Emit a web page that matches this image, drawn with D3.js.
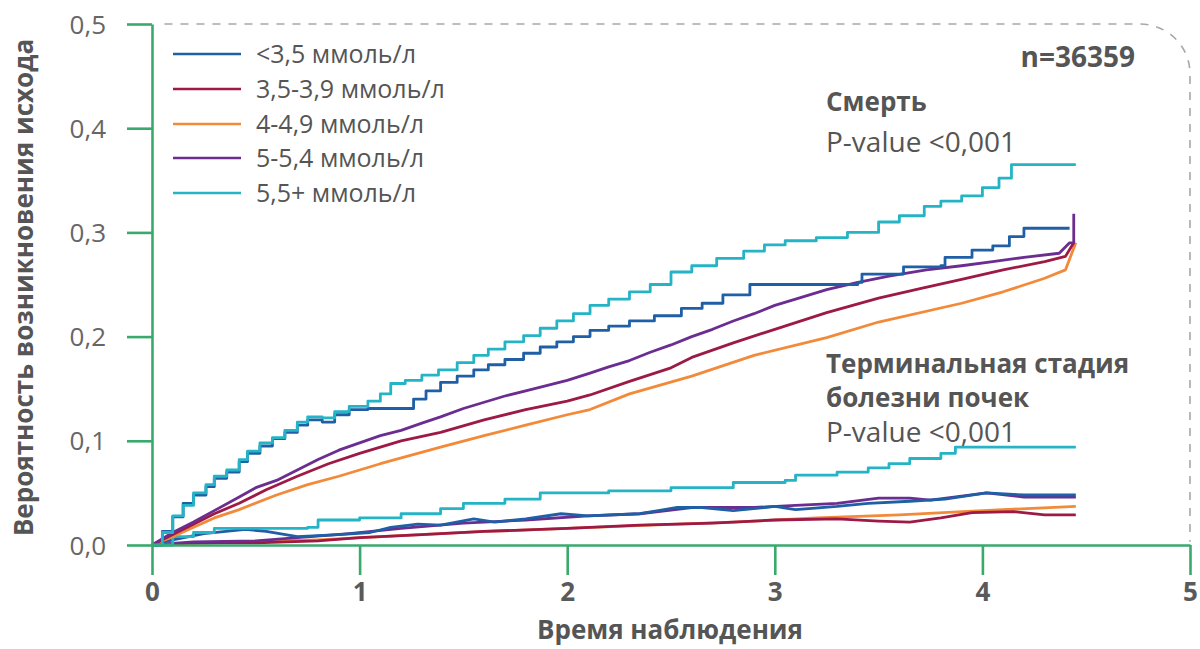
<!DOCTYPE html>
<html><head><meta charset="utf-8">
<script src="https://cdn.jsdelivr.net/npm/d3@7/dist/d3.min.js"></script>
<style>
html,body{margin:0;padding:0;background:#fff;}
svg{display:block;font-family:"Open Sans","Noto Sans",sans-serif;}
</style></head>
<body>
<svg id="chart" width="1200" height="649"></svg>
<script>
// ---- Data ----
const seriesLabels = ["<3,5 ммоль/л","3,5-3,9 ммоль/л","4-4,9 ммоль/л","5-5,4 ммоль/л","5,5+ ммоль/л"];
const seriesColors = ["#1f5fa6","#9c1a45","#f28a3a","#6b2d8f","#24b4c6"];
const xTicks = [0,1,2,3,4,5];
const yTicks = [0,0.1,0.2,0.3,0.4,0.5];

// Death (Смерть) – cumulative incidence [time, probability]
const death_lt35 = [[0,0],[0.05,0.013],[0.1,0.027],[0.15,0.04],[0.2,0.048],[0.26,0.056],[0.3,0.064],[0.36,0.07],[0.42,0.08],[0.46,0.088],[0.52,0.095],[0.58,0.102],[0.64,0.108],[0.7,0.115],[0.75,0.12],[0.82,0.118],[0.88,0.125],[0.95,0.13],[1.04,0.131],[1.2,0.131],[1.26,0.14],[1.32,0.148],[1.39,0.156],[1.47,0.162],[1.55,0.168],[1.62,0.173],[1.7,0.178],[1.79,0.184],[1.87,0.19],[1.95,0.195],[2.03,0.2],[2.11,0.206],[2.2,0.21],[2.3,0.215],[2.42,0.22],[2.55,0.227],[2.65,0.232],[2.75,0.24],[2.88,0.25],[3.4,0.252],[3.42,0.26],[3.62,0.267],[3.8,0.268],[3.82,0.276],[3.95,0.283],[4.05,0.287],[4.13,0.296],[4.2,0.304],[4.42,0.304]];
const death_35_39 = [[0,0],[0.1,0.01],[0.2,0.02],[0.3,0.03],[0.42,0.04],[0.55,0.053],[0.7,0.066],[0.85,0.078],[1.0,0.088],[1.2,0.1],[1.39,0.108],[1.6,0.12],[1.8,0.13],[2.0,0.138],[2.11,0.144],[2.3,0.157],[2.5,0.17],[2.6,0.18],[2.8,0.194],[3.0,0.207],[3.25,0.223],[3.5,0.237],[3.7,0.246],[3.9,0.255],[4.1,0.264],[4.3,0.272],[4.4,0.277],[4.44,0.29]];
const death_4_49 = [[0,0],[0.1,0.008],[0.2,0.017],[0.3,0.026],[0.42,0.034],[0.6,0.048],[0.75,0.058],[0.9,0.066],[1.1,0.078],[1.39,0.094],[1.6,0.105],[1.8,0.115],[2.0,0.125],[2.11,0.13],[2.3,0.145],[2.6,0.162],[2.9,0.182],[3.25,0.199],[3.5,0.214],[3.9,0.232],[4.1,0.243],[4.3,0.256],[4.4,0.264],[4.45,0.29]];
const death_5_54 = [[0,0],[0.1,0.012],[0.2,0.022],[0.3,0.033],[0.42,0.046],[0.5,0.055],[0.6,0.062],[0.7,0.072],[0.8,0.082],[0.9,0.091],[1.0,0.098],[1.1,0.105],[1.2,0.11],[1.3,0.117],[1.39,0.123],[1.5,0.131],[1.6,0.137],[1.7,0.143],[1.8,0.148],[1.9,0.153],[2.0,0.158],[2.11,0.165],[2.2,0.171],[2.3,0.177],[2.4,0.185],[2.5,0.192],[2.6,0.2],[2.7,0.207],[2.8,0.215],[2.9,0.222],[3.0,0.23],[3.1,0.236],[3.25,0.245],[3.4,0.252],[3.55,0.258],[3.73,0.264],[3.9,0.268],[4.05,0.272],[4.2,0.276],[4.37,0.28],[4.42,0.29],[4.44,0.29],[4.44,0.318]];
const death_55p = [[0,0],[0.05,0.012],[0.1,0.028],[0.15,0.038],[0.2,0.05],[0.26,0.058],[0.3,0.066],[0.36,0.072],[0.42,0.082],[0.46,0.09],[0.52,0.098],[0.58,0.103],[0.64,0.11],[0.7,0.118],[0.75,0.123],[0.82,0.122],[0.88,0.128],[0.95,0.133],[1.04,0.138],[1.1,0.145],[1.15,0.155],[1.22,0.158],[1.3,0.163],[1.38,0.168],[1.47,0.175],[1.55,0.182],[1.62,0.188],[1.7,0.195],[1.79,0.201],[1.87,0.208],[1.95,0.215],[2.03,0.222],[2.11,0.23],[2.2,0.236],[2.3,0.243],[2.4,0.25],[2.5,0.262],[2.6,0.268],[2.72,0.275],[2.85,0.282],[2.95,0.288],[3.05,0.292],[3.2,0.295],[3.35,0.3],[3.5,0.31],[3.6,0.316],[3.72,0.325],[3.8,0.33],[3.9,0.335],[4.0,0.343],[4.08,0.352],[4.14,0.365],[4.45,0.365]];

// End-stage kidney disease (Терминальная стадия болезни почек)
const esrd_lt35 = [[0,0],[0.1,0.005],[0.25,0.011],[0.45,0.015],[0.55,0.013],[0.7,0.008],[0.9,0.01],[1.05,0.012],[1.15,0.017],[1.28,0.02],[1.39,0.019],[1.55,0.025],[1.65,0.022],[1.8,0.025],[1.97,0.03],[2.1,0.028],[2.35,0.03],[2.53,0.036],[2.65,0.036],[2.8,0.033],[3.0,0.037],[3.1,0.034],[3.3,0.037],[3.45,0.04],[3.65,0.042],[3.82,0.044],[4.02,0.05],[4.2,0.048],[4.45,0.048]];
const esrd_35_39 = [[0,0],[0.2,0.002],[0.5,0.002],[0.8,0.004],[1.0,0.007],[1.3,0.01],[1.6,0.013],[2.0,0.016],[2.35,0.019],[2.7,0.021],[3.0,0.024],[3.3,0.025],[3.5,0.023],[3.65,0.022],[3.8,0.026],[3.95,0.031],[4.15,0.032],[4.3,0.029],[4.45,0.029]];
const esrd_4_49 = [[0,0],[0.3,0.002],[0.8,0.005],[1.2,0.009],[1.6,0.013],[2.0,0.016],[2.4,0.019],[2.8,0.022],[3.2,0.026],[3.6,0.029],[4.0,0.033],[4.45,0.037]];
const esrd_5_54 = [[0,0],[0.2,0.003],[0.5,0.004],[0.7,0.007],[0.95,0.011],[1.2,0.016],[1.5,0.021],[1.8,0.024],[2.1,0.028],[2.35,0.03],[2.6,0.036],[2.9,0.036],[3.1,0.038],[3.3,0.04],[3.5,0.045],[3.65,0.045],[3.75,0.043],[3.9,0.047],[4.02,0.05],[4.2,0.046],[4.45,0.046]];
const esrd_55p = [[0,0],[0.1,0.008],[0.2,0.012],[0.3,0.016],[0.75,0.017],[0.8,0.024],[1.0,0.026],[1.2,0.03],[1.39,0.035],[1.5,0.04],[1.7,0.044],[1.87,0.05],[2.2,0.052],[2.5,0.055],[2.8,0.06],[3.05,0.062],[3.1,0.067],[3.3,0.07],[3.45,0.074],[3.55,0.078],[3.65,0.083],[3.8,0.088],[3.87,0.094],[4.45,0.094]];

const deathSeries = [death_lt35, death_35_39, death_4_49, death_5_54, death_55p];
const esrdSeries = [esrd_lt35, esrd_35_39, esrd_4_49, esrd_5_54, esrd_55p];

// ---- Chart ----
const svg = d3.select("#chart");
const x = d3.scaleLinear().domain([0,5]).range([152,1190]);
const y = d3.scaleLinear().domain([0,0.5]).range([545,24]);
const axisColor = "#3aa96c";
const textColor = "#555";
const FONT = '"Open Sans","Noto Sans",sans-serif';

// dashed frame (top & right)
svg.append("path")
  .attr("d", `M${x(0.06)},${y(0.5)} H${x(4.76)} A50,50 0 0 1 ${x(5)},${y(0.45)} V${y(0.003)}`)
  .attr("fill","none").attr("stroke","#a8a8a8").attr("stroke-width",1.6).attr("stroke-dasharray","8,8");

// lines
const stepLine = d3.line().x(d=>x(d[0])).y(d=>y(d[1])).curve(d3.curveStepAfter);
const linLine = d3.line().x(d=>x(d[0])).y(d=>y(d[1])).curve(d3.curveLinear);
const deathStepped = [true,false,false,false,true];
const drawOrder = [2,1,3,0,4];
const gL = svg.append("g");
drawOrder.forEach(i=>{
  gL.append("path").datum(esrdSeries[i])
    .attr("d", i===4 ? stepLine : linLine)
    .attr("fill","none").attr("stroke",seriesColors[i]).attr("stroke-width",2.8).attr("stroke-linejoin","round");
});
drawOrder.forEach(i=>{
  gL.append("path").datum(deathSeries[i])
    .attr("d", deathStepped[i] ? stepLine : linLine)
    .attr("fill","none").attr("stroke",seriesColors[i]).attr("stroke-width",2.8).attr("stroke-linejoin","round");
});

// axes
const fmt = d=>d3.format(".1f")(d).replace(".",",");
const yAxis = svg.append("g").attr("transform",`translate(${x(0)},0)`)
  .call(d3.axisLeft(y).tickValues(yTicks).tickSize(25).tickSizeOuter(0).tickPadding(21).tickFormat(fmt));
const xAxis = svg.append("g").attr("transform",`translate(0,${y(0)})`)
  .call(d3.axisBottom(x).tickValues(xTicks).tickSize(30).tickSizeOuter(0).tickPadding(8).tickFormat(d3.format("d")));
[yAxis,xAxis].forEach(a=>{
  a.select(".domain").attr("stroke",axisColor).attr("stroke-width",2.6);
  a.selectAll(".tick line").attr("stroke",axisColor).attr("stroke-width",2.6);
  a.selectAll(".tick text").attr("fill","#666").style("font-family",FONT);
});
yAxis.selectAll(".tick text").attr("font-size",26).attr("dy","0.35em");
xAxis.selectAll(".tick text").attr("font-size",26).attr("font-weight",700).attr("fill","#5a5a5a");

// axis titles
svg.append("text").attr("transform",`translate(33,${(y(0)+y(0.5))/2+3}) rotate(-90)`)
  .attr("text-anchor","middle").attr("font-size",26).attr("font-weight",700).attr("fill",textColor)
  .text("Вероятность возникновения исхода");
svg.append("text").attr("x",670).attr("y",639).attr("text-anchor","middle")
  .attr("font-size",26).attr("font-weight",700).attr("fill",textColor).text("Время наблюдения");

// legend
const legendY = [54,89,124,158,193];
const lg = svg.append("g");
seriesLabels.forEach((lab,i)=>{
  lg.append("line").attr("x1",173).attr("x2",241).attr("y1",legendY[i]).attr("y2",legendY[i])
    .attr("stroke",seriesColors[i]).attr("stroke-width",2.6);
  lg.append("text").attr("x",256).attr("y",legendY[i]).attr("dy","0.35em")
    .attr("font-size",25).attr("fill",textColor).text(lab);
});

// annotations
const ann = [
  {t:"n=36359", x:1135, y:57, w:700, a:"end", s:28},
  {t:"Смерть", x:826, y:102, w:700, a:"start", s:26},
  {t:"P-value <0,001", x:826, y:142, w:400, a:"start", s:28},
  {t:"Терминальная стадия", x:826, y:364, w:700, a:"start", s:26},
  {t:"болезни почек", x:826, y:398, w:700, a:"start", s:26},
  {t:"P-value <0,001", x:826, y:432, w:400, a:"start", s:28}
];
ann.forEach(d=>{
  svg.append("text").attr("x",d.x).attr("y",d.y).attr("dy","0.35em").attr("text-anchor",d.a)
    .attr("font-size",d.s).attr("font-weight",d.w).attr("fill",textColor).text(d.t);
});
</script>
</body></html>
